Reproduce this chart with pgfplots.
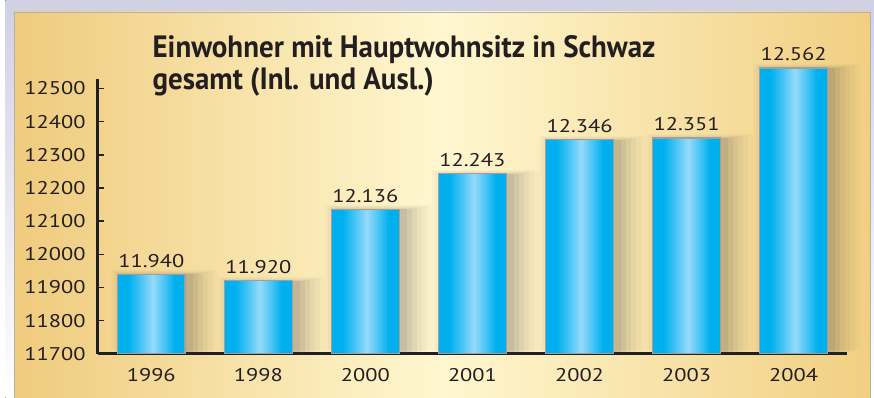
\documentclass[border=0pt]{standalone}
\usepackage{fontspec}
\setmainfont{PT Sans}
\newfontfamily\numfont{PT Sans}[FakeStretch=1.22]
\usepackage{pgfplots}
\pgfplotsset{compat=1.18}
\definecolor{barcyan}{RGB}{0,176,238}
\definecolor{barmid}{RGB}{70,196,245}
\definecolor{barlight}{RGB}{150,218,250}
\definecolor{txt}{RGB}{35,31,32}
\definecolor{goldL}{RGB}{239,203,125}
\definecolor{goldM}{RGB}{255,247,208}
\definecolor{goldR}{RGB}{241,207,130}
\definecolor{frameTop}{RGB}{208,208,228}
\definecolor{shadowc}{RGB}{60,60,70}
\pgfdeclarehorizontalshading{barshade}{100bp}{color(0bp)=(barcyan); color(25bp)=(barcyan); color(33bp)=(barcyan); color(42bp)=(barmid); color(51bp)=(barlight); color(60bp)=(barmid); color(67bp)=(barcyan); color(75bp)=(barcyan); color(100bp)=(barcyan)}
\pgfplotsset{
  shadowbar/.style n args={4}{ybar, bar width=#1, bar shift=#2, draw=none, fill=shadowc, fill opacity=#3, yshift=#4, forget plot},
  mainbar/.style={ybar, bar width=68pt, bar shift=0pt, draw=gray!75, line width=1.2pt,
    shade, shading=barshade,
    nodes near coords={\pgfmathprintnumber[1000 sep={.}]{\pgfplotspointmeta}},
    nodes near coords style={font=\numfont\fontsize{18.5}{18.5}\selectfont, text=txt, anchor=base, yshift=7pt, inner sep=0pt}},
}
\newcommand\shadows[1]{%
  \addplot[shadowbar={108pt}{13pt}{0.025}{4pt}] coordinates {#1};
  \addplot[shadowbar={100pt}{12pt}{0.035}{3pt}] coordinates {#1};
  \addplot[shadowbar={92pt}{11pt}{0.045}{2pt}] coordinates {#1};
  \addplot[shadowbar={84pt}{10pt}{0.06}{1pt}] coordinates {#1};
  \addplot[shadowbar={76pt}{9pt}{0.07}{0pt}] coordinates {#1};
  \addplot[shadowbar={68pt}{8pt}{0.08}{0pt}] coordinates {#1};
}
\newlength\tw
\begin{document}
\settowidth\tw{\fontsize{31}{31}\selectfont\bfseries Einwohner mit Hauptwohnsitz in Schwaz}
\pgfmathsetmacro\sx{506/\tw}
\begin{tikzpicture}[x=1pt,y=1pt]
\useasboundingbox (-93,-44) rectangle (781,356);
\fill[top color=frameTop, bottom color=white] (-93,-44) rectangle (781,356);
\shade[left color=goldL, right color=goldR, middle color=goldM] (-84,-44) rectangle (777,344);
\draw[gray!60, line width=0.6pt] (-84,-44) -- (-84,344) -- (777,344) -- (777,-44);
\begin{axis}[
  at={(0,0)}, anchor=south west,
  scale only axis, width=754pt, height=277pt,
  xmin=-0.5, xmax=6.5, ymin=11700, ymax=12530,
  clip=false,
  axis x line=bottom, axis y line=left,
  axis line style={line width=3pt, txt, -},
  scaled y ticks=false,
  /pgf/number format/assume math mode=true,
  /pgf/number format/1000 sep={},
  ytick={11700,11800,...,12500},
  xtick={0,...,6},
  xticklabels={1996,1998,2000,2001,2002,2003,2004},
  tick label style={font=\numfont\fontsize{18.5}{18.5}\selectfont, text=txt},
  xtick style={draw=none},
  ytick style={line width=1.5pt, txt},
  tick align=inside,
  major tick length=6pt,
  yticklabel style={inner sep=0pt, xshift=-12pt},
  xticklabel style={anchor=base, inner sep=0pt, yshift=-28pt},
  extra x ticks={0.5,1.5,...,6.5},
  extra x tick labels={},
  extra x tick style={major tick length=9pt, tick style={line width=3pt, txt, draw=txt}},
]
\shadows{(0,11940)} \shadows{(1,11920)} \shadows{(2,12136)} \shadows{(3,12243)}
\shadows{(4,12346)} \shadows{(5,12351)} \shadows{(6,12562)}
\addplot[mainbar] coordinates {(0,11940)};
\addplot[mainbar] coordinates {(1,11920)};
\addplot[mainbar] coordinates {(2,12136)};
\addplot[mainbar] coordinates {(3,12243)};
\addplot[mainbar] coordinates {(4,12346)};
\addplot[mainbar] coordinates {(5,12351)};
\addplot[mainbar] coordinates {(6,12562)};
\end{axis}
\node[anchor=base west, inner sep=0pt, text=txt] at (55,298) {\scalebox{\sx}[1]{\fontsize{31}{31}\selectfont\bfseries Einwohner mit Hauptwohnsitz in Schwaz}};
\node[anchor=base west, inner sep=0pt, text=txt] at (55,266) {\scalebox{\sx}[1]{\fontsize{31}{31}\selectfont\bfseries gesamt (Inl. und Ausl.)}};
\end{tikzpicture}
\end{document}
